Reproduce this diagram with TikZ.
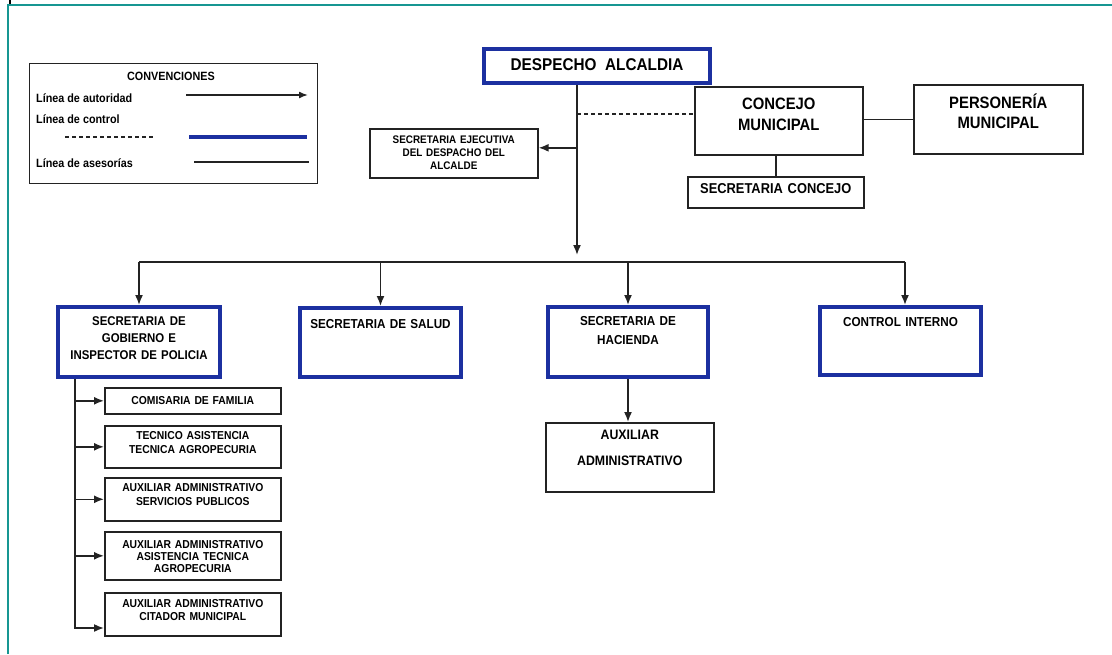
\documentclass[tikz,border=0pt]{standalone}
\usepackage{fontspec}
\setmainfont{Liberation Sans}[FakeStretch=0.9]
\usepackage{tikz}
\usetikzlibrary{arrows.meta}

\definecolor{azulmando}{RGB}{28,48,160}
\definecolor{verdemarco}{RGB}{22,150,146}
\definecolor{trazo}{RGB}{35,35,35}

\tikzset{
  letra/.style 2 args={font=\bfseries\fontsize{#1}{#2}\selectfont},
  tam/.style n args={3}{text width=#1,text height=#2,text depth=#3}
}

\begin{document}
\begin{tikzpicture}[x=1pt,y=-1pt]
\useasboundingbox (0,0) rectangle (1112,654);
\draw[verdemarco,line width=2.5pt] (8,654) -- (8,5) -- (1112,5);
\draw[black,line width=1.5pt] (10,0) -- (10,4);

% convenciones
\node[draw=trazo,line width=1.4pt,minimum width=288pt,minimum height=120pt,anchor=north west,inner sep=0pt] (Conv) at (29,63) {};
\node[letra={12}{13}] (ConvTitulo) at (171,76) {CONVENCIONES};
\begin{scope}[every node/.style={anchor=west,inner sep=0pt,letra={12}{13}}]
    \node (ConvAutoridad) at (36,98) {Línea de autoridad};
    \node (ConvControl) at (36,119) {Línea de control};
    \node (ConvAsesoria) at (36,163) {Línea de asesorías};
\end{scope}
\draw[trazo,line width=1.5pt,-{Latex[length=9pt,width=7pt]}] (186,95) -- (308,95);
\draw[trazo,line width=1.2pt,dash pattern=on 4pt off 3pt] (65,137) -- (154,137);
\draw[azulmando,line width=4.5pt] (189,137) -- (307,137);
\draw[trazo,line width=1.5pt] (194,162) -- (309,162);

% dependencias principales
\begin{scope}[every node/.style={rectangle,draw=azulmando,line width=4pt,fill=white,
              anchor=north west,inner sep=0pt,align=center}]
    \node[tam={226pt}{21.5pt}{12.5pt},letra={17}{20}] (Alcaldia) at (482,47) {DESPECHO\hspace{3pt} ALCALDIA};
    \node[tam={162pt}{18.5pt}{51.5pt},letra={12.7}{17}] (Gobierno) at (56,305) {SECRETARIA DE\\GOBIERNO E\\INSPECTOR DE POLICIA};
    \node[tam={161pt}{20.2pt}{48.8pt},letra={13}{17}] (Salud) at (298,306) {SECRETARIA DE SALUD};
    \node[tam={160pt}{18.5pt}{51.5pt},letra={13}{19}] (Hacienda) at (546,305) {SECRETARIA DE\\HACIENDA};
    \node[tam={161pt}{19.5pt}{48.5pt},letra={13}{17}] (Interno) at (818,305) {CONTROL INTERNO};
\end{scope}

\begin{scope}[every node/.style={rectangle,draw=trazo,line width=1.6pt,fill=white,
              anchor=north west,inner sep=0pt,align=center}]
    \node[tam={168pt}{15pt}{34pt},letra={11}{13}] (Ejecutiva) at (369,128) {SECRETARIA EJECUTIVA\\DEL DESPACHO DEL\\ALCALDE};
    \node[tam={168pt}{22.3pt}{45.7pt},letra={16.5}{21}] (Concejo) at (694,86) {CONCEJO\\MUNICIPAL};
    \node[tam={169pt}{23.5pt}{45.5pt},letra={16.5}{20}] (Personeria) at (913,84) {PERSONERÍA\\MUNICIPAL};
    \node[tam={176pt}{16.5pt}{14.5pt},letra={14.3}{15}] (SecConcejo) at (687,176) {SECRETARIA CONCEJO};
    \node[tam={168pt}{16.3pt}{52.7pt},letra={13.7}{26.7}] (Auxiliar) at (545,422) {AUXILIAR\\ADMINISTRATIVO};
    \node[tam={176pt}{16.3pt}{9.7pt},letra={11.5}{13}] (Comisaria) at (104,387) {COMISARIA DE FAMILIA};
    \node[tam={176pt}{13.5pt}{28.5pt},letra={11.5}{14}] (Tecnico) at (104,425) {TECNICO ASISTENCIA\\TECNICA AGROPECURIA};
    \node[tam={176pt}{13.8pt}{29.2pt},letra={11.5}{14}] (Servicios) at (104,477) {AUXILIAR ADMINISTRATIVO\\SERVICIOS PUBLICOS};
    \node[tam={176pt}{16.5pt}{31.5pt},letra={11.5}{12.2}] (Asistencia) at (104,531) {AUXILIAR ADMINISTRATIVO\\ASISTENCIA TECNICA\\AGROPECURIA};
    \node[tam={176pt}{14.4pt}{28.6pt},letra={11.5}{13.4}] (Citador) at (104,592) {AUXILIAR ADMINISTRATIVO\\CITADOR MUNICIPAL};
\end{scope}

% lineas de autoridad, control y asesoria
\begin{scope}[>={Latex[length=10pt,width=8pt]}, line width=1.6pt, color=trazo]
    \coordinate (Tronco) at (577,255);
    \coordinate (Barra) at (0,262);
    \coordinate (Rama) at (75,628);
    \draw[->] (Alcaldia.south -| Tronco) -- (Tronco);
    \draw[->] ([yshift=5.5pt]Ejecutiva.east -| Tronco) -- ([yshift=5.5pt]Ejecutiva.east);
    \draw[dash pattern=on 4pt off 3pt] ([yshift=7pt]Concejo.west -| Tronco) -- ([yshift=7pt]Concejo.west);
    \draw (Concejo.east |- Personeria.west) -- (Personeria.west);
    \draw (SecConcejo.north |- Concejo.south) -- (SecConcejo.north);
    \draw (Gobierno.north |- Barra) -- ([xshift=4.5pt]Interno.north |- Barra);
    \foreach \n in {Gobierno,Salud,Hacienda}
        \draw[->] (\n.north |- Barra) -- (\n.north);
    \draw[->] ([xshift=4.5pt]Interno.north |- Barra) -- ([xshift=4.5pt]Interno.north);
    \draw[->] (Hacienda.south) -- (Hacienda.south |- Auxiliar.north);
    \draw[->] (Gobierno.south -| Rama) |- (Rama -| Citador.west);
    \foreach \n in {Comisaria,Tecnico,Servicios,Asistencia}
        \draw[->] (Rama |- \n.west) -- (\n.west);
\end{scope}

\end{tikzpicture}
\end{document}
